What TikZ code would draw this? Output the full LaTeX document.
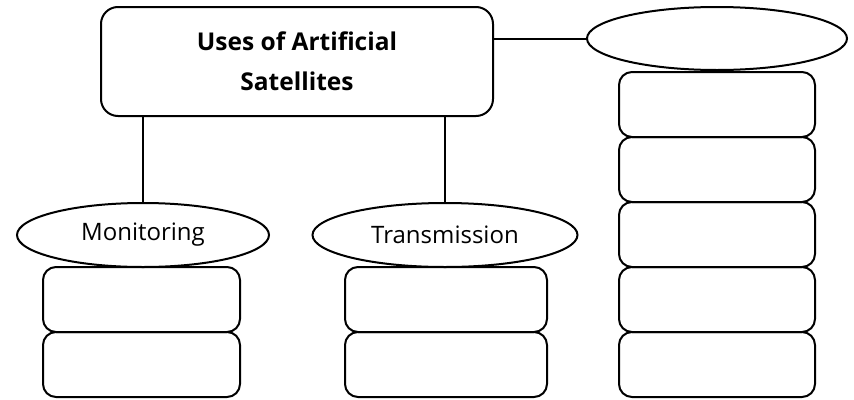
\documentclass[tikz,border=0pt]{standalone}
\usepackage{fontspec}
\setmainfont{Open Sans}
\usetikzlibrary{shapes.geometric}

\begin{document}
\begin{tikzpicture}[x=1pt, y=-1pt, line width=2pt,
    slot/.style={
        draw,
        rounded corners=13pt,
        minimum height=65pt,
        inner sep=0pt,
        outer sep=0pt
    },
    topic/.style={
        draw,
        ellipse,
        minimum height=64pt,
        inner sep=0pt,
        outer sep=0pt,
        font=\fontsize{24}{29}\selectfont
    },
    title/.style={
        draw,
        rounded corners=17pt,
        minimum width=392pt,
        minimum height=109pt,
        align=center,
        font=\fontsize{24.5}{40}\selectfont\bfseries
    }
]
\useasboundingbox (0,0) rectangle (854,399);

% --- Title ---
\node[title] (title) at (297,61.5) {Uses of Artificial\\Satellites};

% --- Topics ---
\node[topic, minimum width=252pt] (mon) at (143,235) {Monitoring};
\node[topic, minimum width=265pt] (trans) at (445,235) {Transmission};
\node[topic, minimum width=260pt, minimum height=63pt] (other) at (717,38.5) {};

% --- Monitoring slots ---
\node[slot, minimum width=197pt] (m1) at (141.5,299.5) {};
\node[slot, minimum width=197pt] (m2) at (141.5,364.5) {};

% --- Transmission slots ---
\node[slot, minimum width=202pt] (t1) at (446,299.5) {};
\node[slot, minimum width=202pt] (t2) at (446,364.5) {};

% --- Other slots ---
\node[slot, minimum width=196pt] (o1) at (717,104.5) {};
\node[slot, minimum width=196pt] (o2) at (717,169.5) {};
\node[slot, minimum width=196pt] (o3) at (717,234.5) {};
\node[slot, minimum width=196pt] (o4) at (717,299.5) {};
\node[slot, minimum width=196pt] (o5) at (717,364.5) {};

% --- Links ---
\draw (mon.north) -- (mon.north |- title.south);
\draw (trans.north) -- (trans.north |- title.south);
\draw (other.west) -- (other.west -| title.east);

\end{tikzpicture}
\end{document}
